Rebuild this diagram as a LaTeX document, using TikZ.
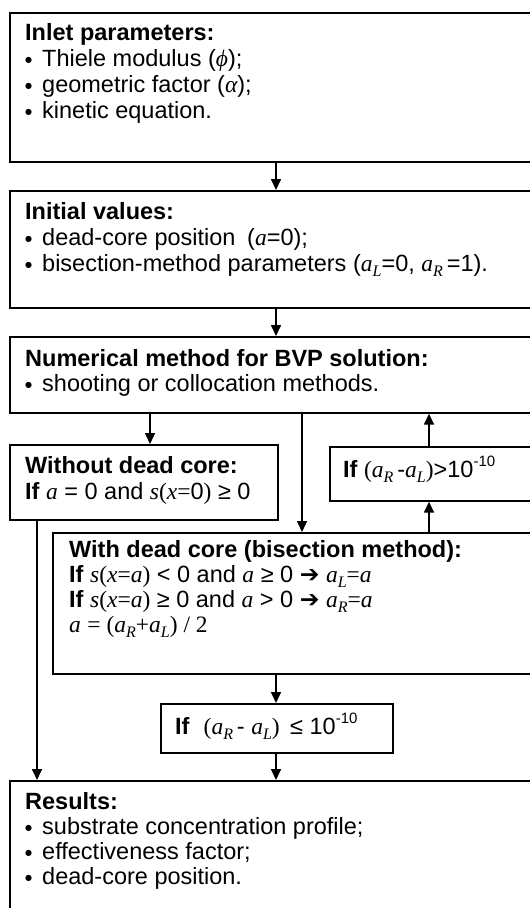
\documentclass[tikz,border=0pt]{standalone}
\usepackage{fontspec}
\setmainfont{Liberation Sans}
\newfontfamily\tms{Liberation Serif}
\newfontfamily\djv{DejaVu Sans}
\usetikzlibrary{arrows.meta}
\newcommand\mi[1]{{\tms\itshape #1}}
\newcommand\tm[1]{{\tms #1}}
\newcommand\sbs[1]{\raisebox{-0.22em}{\fontsize{16}{16}\selectfont\tms\itshape #1}}
\newcommand\sps[1]{\raisebox{0.45em}{\fontsize{15}{15}\selectfont #1}}
\newcommand\bul{\makebox[17pt][l]{\raisebox{3.5pt}{\djv\fontsize{8}{8}\selectfont ●}}}
\newcommand\rarr{{\djv\bfseries ➔}}
\begin{document}
\begin{tikzpicture}[x=1pt,y=-1pt,
  box/.style={draw, line width=1.7pt, rectangle, anchor=north west, inner sep=0pt},
  txt/.style={anchor=base west, inner sep=0pt, font=\fontsize{23.5}{23.5}\selectfont},
  arr/.style={line width=1.6pt, -{Triangle[length=11pt,width=10pt]}}]
\useasboundingbox (0,0) rectangle (530,908);
\clip (0,0) rectangle (530,908);
% boxes
\node[box, minimum width=540pt, minimum height=149pt] (b1) at (9,12) {};
\node[box, minimum width=540pt, minimum height=117pt] (b2) at (9,190) {};
\node[box, minimum width=540pt, minimum height=76pt] (b3) at (9,336) {};
\node[box, minimum width=268pt, minimum height=75pt] (wo) at (9,444) {};
\node[box, minimum width=220pt, minimum height=54pt] (ifg) at (329,446) {};
\node[box, minimum width=500pt, minimum height=141pt] (wd) at (52,532) {};
\node[box, minimum width=232pt, minimum height=49pt] (ifl) at (160,703) {};
\node[box, minimum width=540pt, minimum height=150pt] (res) at (9,780) {};
% columns
\coordinate (cm) at (276,0);
\coordinate (cw) at (150,0);
\coordinate (cd) at (302,0);
\coordinate (cr) at (429,0);
\coordinate (cl) at (37,0);
% texts
\node[txt] (t11) at (25,40) {\textbf{Inlet parameters:}};
\node[txt] (t12) at (25,66) {\bul Thiele modulus (\mi{ϕ});};
\node[txt] (t13) at (25,92) {\bul geometric factor (\mi{α});};
\node[txt] (t14) at (25,118) {\bul kinetic equation.};
\node[txt] (t21) at (25,219) {\textbf{Initial values:}};
\node[txt] (t22) at (25,245) {\bul dead-core position\hspace{0.5em}(\mi{a}=0);};
\node[txt] (t23) at (25,271) {\bul bisection-method parameters (\mi{a}\sbs{L}=0, \mi{a}\sbs{R}\,=1).};
\node[txt] (t31) at (25,366) {\textbf{Numerical method for BVP solution:}};
\node[txt] (t32) at (25,391) {\bul shooting or collocation methods.};
\node[txt] (t41) at (25,473) {\textbf{Without dead core:}};
\node[txt] (t42) at (25,499) {\textbf{If} \mi{a} = 0 and \mi{s}\tm{(}\mi{x}\tm{=}0\tm{)} ≥ 0};
\node[txt] (t51) at (343,477) {\textbf{If} \tm{(}\mi{a}\sbs{R}\,-\mi{a}\sbs{L}\tm{)}>10\sps{-10}};
\node[txt] (t61) at (69,557) {\textbf{With dead core (bisection method):}};
\node[txt] (t62) at (69,582) {\textbf{If} \mi{s}\tm{(}\mi{x}\tm{=}\mi{a}\tm{)} < 0 and \mi{a} ≥ 0 \rarr{} \mi{a}\sbs{L}\tm{=}\mi{a}};
\node[txt] (t63) at (69,607) {\textbf{If} \mi{s}\tm{(}\mi{x}\tm{=}\mi{a}\tm{)} ≥ 0 and \mi{a} > 0 \rarr{} \mi{a}\sbs{R}\tm{=}\mi{a}};
\node[txt] (t64) at (69,632) {\mi{a} \tm{= (}\mi{a}\sbs{R}\tm{+}\mi{a}\sbs{L}\tm{) / 2}};
\node[txt] (t71) at (175,734) {\textbf{If}\hspace{0.6em}\tm{(}\mi{a}\sbs{R}\,- \mi{a}\sbs{L}\tm{)}\, ≤ 10\sps{-10}};
\node[txt] (t81) at (25,809) {\textbf{Results:}};
\node[txt] (t82) at (25,834) {\bul substrate concentration profile;};
\node[txt] (t83) at (25,859) {\bul effectiveness factor;};
\node[txt] (t84) at (25,884) {\bul dead-core position.};
% connectors
\draw[arr] (b1.south -| cm) -- (b2.north -| cm);
\draw[arr] (b2.south -| cm) -- (b3.north -| cm);
\draw[arr] (b3.south -| cw) -- (wo.north -| cw);
\draw[arr] (b3.south -| cd) -- (wd.north -| cd);
\draw[arr] (ifg.north -| cr) -- (b3.south -| cr);
\draw[arr] (wd.north -| cr) -- (ifg.south -| cr);
\draw[arr] (wd.south -| cm) -- (ifl.north -| cm);
\draw[arr] (ifl.south -| cm) -- (res.north -| cm);
\draw[arr] (wo.south -| cl) -- (res.north -| cl);
\end{tikzpicture}
\end{document}
